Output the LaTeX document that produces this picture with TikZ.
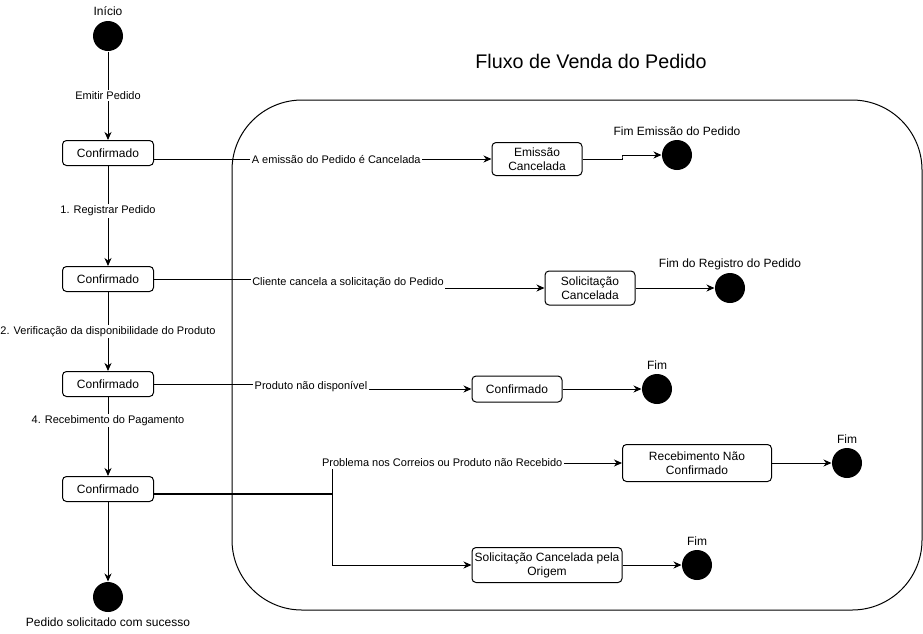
\documentclass[tikz,border=0pt]{standalone}
\usepackage{fontspec}
\setmainfont{Liberation Sans}
\usetikzlibrary{arrows.meta}

\begin{document}
\begin{tikzpicture}[x=1pt,y=-1pt,line width=1pt,
  >={Stealth[length=8pt,width=7pt,inset=2.5pt]},
  estado/.style={draw,rounded corners=4pt,align=center,inner sep=2pt,
    font=\fontsize{12}{14}\selectfont},
  ponto/.style={circle,fill=black,minimum size=30pt,inner sep=0pt},
  rotulo/.style={fill=white,inner sep=1.5pt,font=\fontsize{11}{13}\selectfont},
  legenda/.style={inner sep=1pt,font=\fontsize{12}{14}\selectfont}]
  \useasboundingbox (0,0) rectangle (923,633);

  \draw[rounded corners=70pt] (232,100) rectangle (922,610);
  \node[font=\fontsize{19.7}{23}\selectfont] (tFluxo) at (591,61) {Fluxo de Venda do Pedido};

  \node[ponto] (inicio) at (108,36) {};
  \node[legenda] (tInicio) at (108,11) {Início};
  \node[estado,minimum width=91pt,minimum height=25pt] (conf1) at (108,153) {Confirmado};
  \node[estado,minimum width=91pt,minimum height=25pt] (conf2) at (108,279) {Confirmado};
  \node[estado,minimum width=91pt,minimum height=25pt] (conf3) at (108,384) {Confirmado};
  \node[estado,minimum width=91pt,minimum height=25pt] (conf4) at (108,489) {Confirmado};
  \node[ponto] (fimOk) at (108,597) {};
  \node[legenda] (tFimOk) at (108,622) {Pedido solicitado com sucesso};

  \node[estado,minimum width=90pt,minimum height=33pt] (emCanc) at (537,159) {Emissão\\Cancelada};
  \node[ponto] (fimEm) at (677,155) {};
  \node[legenda] (tFimEm) at (677,131) {Fim Emissão do Pedido};
  \node[estado,minimum width=90pt,minimum height=34pt] (solCanc) at (590,288) {Solicitação\\Cancelada};
  \node[ponto] (fimReg) at (730,288) {};
  \node[legenda] (tFimReg) at (730,264) {Fim do Registro do Pedido};
  \node[estado,minimum width=90pt,minimum height=26pt] (conf5) at (517,389) {Confirmado};
  \node[ponto] (fimProd) at (657,389) {};
  \node[legenda] (tFimProd) at (657,365) {Fim};
  \node[estado,minimum width=149pt,minimum height=37pt] (recNao) at (697,463) {Recebimento Não\\Confirmado};
  \node[ponto] (fimRec) at (847,463) {};
  \node[legenda] (tFimRec) at (847,439) {Fim};
  \node[estado,minimum width=150pt,minimum height=35pt] (solOrig) at (547,565) {Solicitação Cancelada pela\\Origem};
  \node[ponto] (fimOrig) at (697,565) {};
  \node[legenda] (tFimOrig) at (697,541) {Fim};

  \coordinate (q1) at (622,157);
  \coordinate (q2) at (348,283);
  \coordinate (q3) at (311,387);
  \coordinate (ramo) at (332,494);

  \draw[->] (inicio) -- node[rotulo] {Emitir Pedido} (conf1);
  \draw[->] (conf1) -- node[rotulo,pos=0.45] {1. Registrar Pedido} (conf2);
  \draw[->] (conf2) -- node[rotulo] {2. Verificação da disponibilidade do Produto} (conf3);
  \draw[->] (conf3) -- node[rotulo,pos=0.3] {4. Recebimento do Pagamento} (conf4);
  \draw[->] (conf4) -- (fimOk);

  \draw[->] (conf1.east |- emCanc) -- node[rotulo,pos=0.54] {A emissão do Pedido é Cancelada} (emCanc);
  \draw[->] (conf2) -| (q2) node[rotulo] {Cliente cancela a solicitação do Pedido} |- (solCanc);
  \draw[->] (conf3) -| (q3) node[rotulo] {Produto não disponível} |- (conf5);
  \draw[line width=1.8pt] (conf4.east |- ramo) -- (ramo);
  \draw[->] (ramo) |- node[rotulo,pos=0.69] {Problema nos Correios ou Produto não Recebido} (recNao);
  \draw[->] (ramo) |- (solOrig);

  \draw[->] (emCanc) -| (q1) |- (fimEm);
  \draw[->] (solCanc) -- (fimReg);
  \draw[->] (conf5) -- (fimProd);
  \draw[->] (recNao) -- (fimRec);
  \draw[->] (solOrig) -- (fimOrig);
\end{tikzpicture}
\end{document}
